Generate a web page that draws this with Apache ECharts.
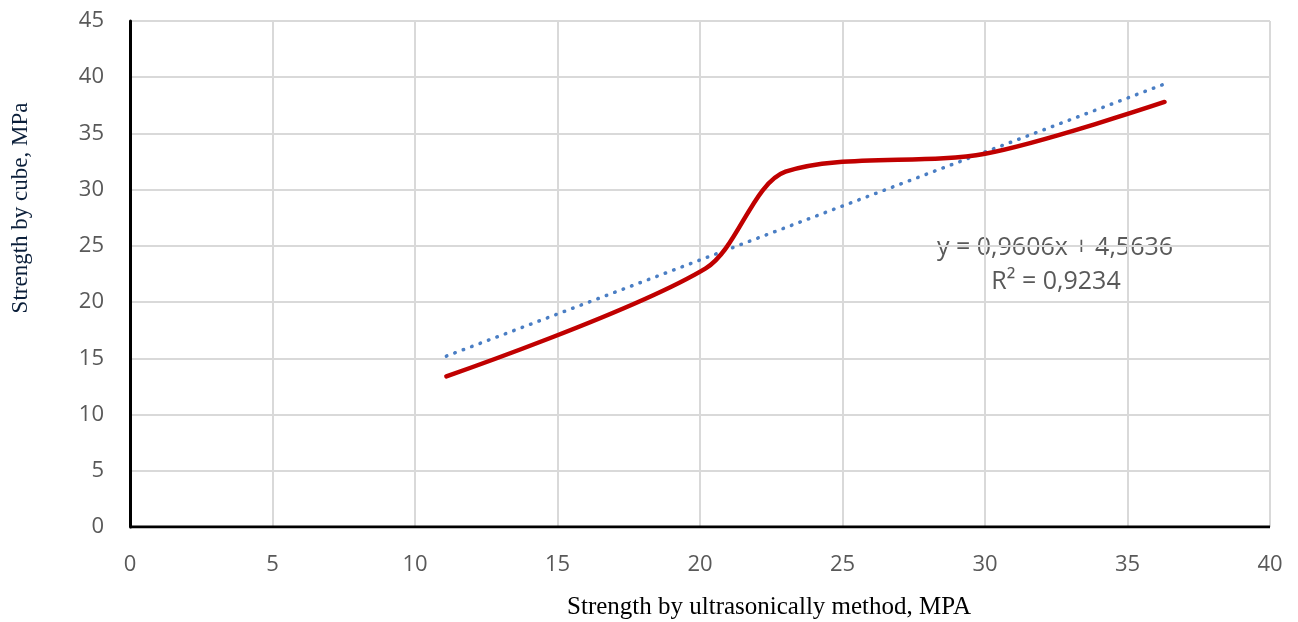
<!DOCTYPE html>
<html>
<head>
<meta charset="utf-8">
<script src="https://cdn.jsdelivr.net/npm/echarts@6/dist/echarts.min.js"></script>
<style>
html,body{margin:0;padding:0;background:#fff;}
#chart{width:1298px;height:622px;}
</style>
</head>
<body>
<div id="chart"></div>
<script>
const measuredX = [11.1, 20.2, 23.0, 30.0, 36.3];
const measuredY = [13.4, 23.0, 31.6, 33.2, 37.8];
// Linear trend line endpoints
const trendX = [11.1, 36.3];
const trendY = [15.2, 39.4];
// Axis ticks
const xTicks = [0, 5, 10, 15, 20, 25, 30, 35, 40];
const yTicks = [0, 5, 10, 15, 20, 25, 30, 35, 40, 45];
const eqLabel = 'y = 0,9606x + 4,5636';
const r2Label = 'R² = 0,9234';
const xTitle = 'Strength by ultrasonically method, MPA';
const yTitle = 'Strength by cube, MPa';

const measured = measuredX.map((x, i) => [x, measuredY[i]]);
const trend = trendX.map((x, i) => [x, trendY[i]]);

const chart = echarts.init(document.getElementById('chart'));
const tickFont = { color: '#595959', fontSize: 22, fontFamily: 'Open Sans' };
chart.setOption({
  animation: false,
  grid: { left: 130, right: 28, top: 21, bottom: 95 },
  xAxis: {
    type: 'value', min: xTicks[0], max: xTicks[xTicks.length - 1], interval: 5,
    axisLine: { show: false },
    axisTick: { show: false },
    splitLine: { lineStyle: { color: '#D9D9D9', width: 2 } },
    axisLabel: Object.assign({ margin: 27 }, tickFont)
  },
  yAxis: {
    type: 'value', min: yTicks[0], max: yTicks[yTicks.length - 1], interval: 5,
    axisLine: { show: true, onZero: false, lineStyle: { color: '#000', width: 3 } },
    axisTick: { show: false },
    splitLine: { lineStyle: { color: '#D9D9D9', width: 2 } },
    axisLabel: Object.assign({ margin: 26 }, tickFont)
  },
  series: [
    {
      type: 'line', data: trend, symbol: 'none', z: 3,
      lineStyle: { color: '#4A7EC4', width: 3.5, type: [0.5, 8.5], cap: 'round' }
    },
    {
      type: 'line', data: measured, symbol: 'none', smooth: 0.3, z: 4,
      lineStyle: { color: '#C00000', width: 4.5, cap: 'round' }
    },
    {
      type: 'line', data: [[0, 0], [40, 0]], symbol: 'none', silent: true, z: 5,
      lineStyle: { color: '#000', width: 3 }
    }
  ],
  graphic: [
    { type: 'text', x: 1055, y: 248, style: { text: eqLabel, fill: '#595959', font: '25px "Open Sans"', align: 'center', verticalAlign: 'middle' } },
    { type: 'text', x: 1056, y: 282, style: { text: r2Label, fill: '#595959', font: '25px "Open Sans"', align: 'center', verticalAlign: 'middle' } },
    { type: 'text', x: 769, y: 607, style: { text: xTitle, fill: '#000', font: '25px "Liberation Serif"', align: 'center', verticalAlign: 'middle' } },
    { type: 'text', x: 21, y: 208, rotation: Math.PI / 2, style: { text: yTitle, fill: '#0B1F3A', font: '23px "Liberation Serif"', align: 'center', verticalAlign: 'middle' } }
  ]
});
</script>
</body>
</html>
